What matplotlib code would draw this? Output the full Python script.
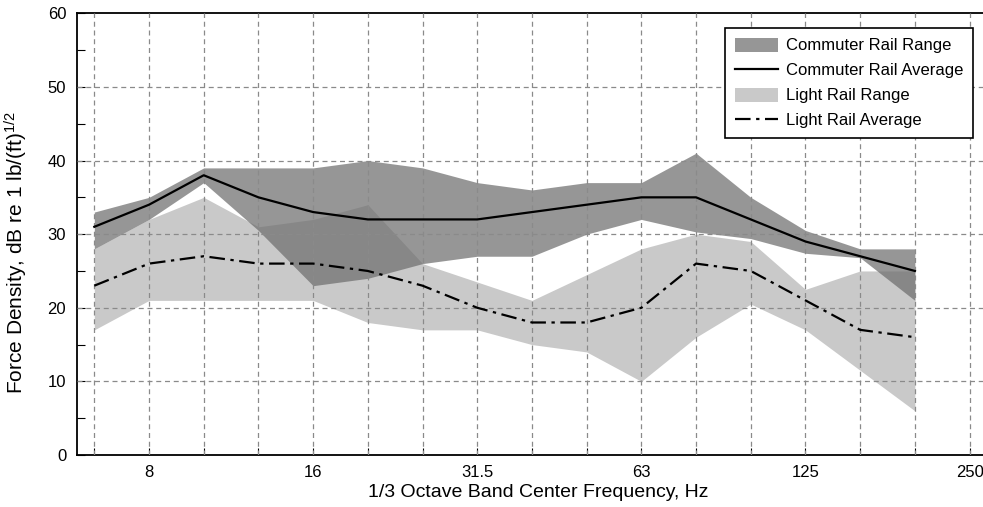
import matplotlib
matplotlib.use("Agg")
import matplotlib.pyplot as plt
from matplotlib.patches import Patch
from matplotlib.lines import Line2D

plt.rcParams['font.family'] = ['Liberation Sans', 'DejaVu Sans']
plt.rcParams['mathtext.fontset'] = 'custom'
plt.rcParams['mathtext.rm'] = 'Liberation Sans'
plt.rcParams['mathtext.default'] = 'regular'

bands = ["6.3", "8", "10", "12.5", "16", "20", "25", "31.5", "40", "50",
         "63", "80", "100", "125", "160", "200", "250"]
labeled = ["8", "16", "31.5", "63", "125", "250"]

# data for bands 6.3 ... 200 Hz
commuter_avg = [31, 34, 38, 35, 33, 32, 32, 32, 33, 34, 35, 35, 32, 29, 27, 25]
commuter_hi = [33, 35, 39, 39, 39, 40, 39, 37, 36, 37, 37, 41, 35, 30.5, 28, 28]
commuter_lo = [28, 32, 37, 30.5, 23, 24, 26, 27, 27, 30, 32, 30.3, 29.4, 27.4, 26.8, 21]
light_avg = [23, 26, 27, 26, 26, 25, 23, 20, 18, 18, 20, 26, 25, 21, 17, 16]
light_hi = [28, 32, 35, 31, 32, 34, 26, 23.5, 21, 24.5, 28, 30, 29, 22.5, 25, 25]
light_lo = [17, 21, 21, 21, 21, 18, 17, 17, 15, 14, 10, 16, 20.5, 17, 11.5, 6]

DARK = (0.43, 0.43, 0.43)
LIGHT = (0.79, 0.79, 0.79)
DD = (7, 2.5, 1.5, 2.5)

W, H = 983, 507
fig = plt.figure(figsize=(W / 100, H / 100), dpi=100)
left_px, right_px, top_px, bot_px = 77.3, 986, 13.3, 455
aw, ah = right_px - left_px, bot_px - top_px
ax = fig.add_axes([left_px / W, 1 - bot_px / H, aw / W, ah / H])

x = list(range(len(commuter_avg)))
ax.fill_between(x, light_lo, light_hi, color=LIGHT, lw=0, zorder=1)
ax.fill_between(x, commuter_lo, commuter_hi, color=DARK, alpha=0.72, lw=0, zorder=2)
ax.plot(x, commuter_avg, color='black', lw=1.6, zorder=4)
ax.plot(x, light_avg, color='black', lw=1.6, dashes=DD, zorder=4)

ax.set_xlim(-0.311, 16.30)
ax.set_ylim(0, 60)
ax.set_xticks(range(len(bands)), minor=True)
ax.set_xticks([bands.index(b) for b in labeled])
ax.set_xticklabels(labeled)
ax.set_yticks(range(0, 61, 10))
ax.set_yticks(range(0, 61, 5), minor=True)
ax.tick_params(axis='y', which='both', labelsize=12, direction='in', length=6, width=0.8, pad=8)
ax.tick_params(axis='x', which='both', direction='in', length=5, width=0.8, pad=7, labelsize=12)

for i in range(len(bands)):
    ax.axvline(i, color='#8a8a8a', lw=0.9, dashes=(4, 3), zorder=3)
for yv in range(10, 60, 10):
    ax.axhline(yv, color='#8a8a8a', lw=0.9, dashes=(4, 3), zorder=3)

for s in ax.spines.values():
    s.set_linewidth(1.3)
ax.spines['right'].set_visible(False)

ax.set_xlabel("1/3 Octave Band Center Frequency, Hz", fontsize=14)
ax.xaxis.set_label_coords((538 - left_px) / aw, (bot_px - 484) / ah)
ax.set_ylabel("Force Density, dB re 1 lb/(ft)$^{1/2}$", fontsize=15)
ax.yaxis.set_label_coords((30 - left_px) / aw, (bot_px - 253) / ah)

handles = [
    Patch(facecolor=DARK, alpha=0.72, edgecolor='none', label='Commuter Rail Range'),
    Line2D([], [], color='black', lw=1.6, label='Commuter Rail Average'),
    Patch(facecolor=LIGHT, edgecolor='none', label='Light Rail Range'),
    Line2D([], [], color='black', lw=1.6, dashes=DD, label='Light Rail Average'),
]
leg = ax.legend(handles=handles, loc='upper right',
                bbox_to_anchor=((973 - left_px) / aw, (bot_px - 27.7) / ah),
                fontsize=12, frameon=True, fancybox=False, framealpha=1, edgecolor='black',
                handlelength=2.6, handleheight=0.9, labelspacing=0.56, borderpad=0.6,
                handletextpad=0.45, borderaxespad=0)
leg.get_frame().set_linewidth(1.2)
leg.set_zorder(10)

fig.savefig("out.png", dpi=100)
